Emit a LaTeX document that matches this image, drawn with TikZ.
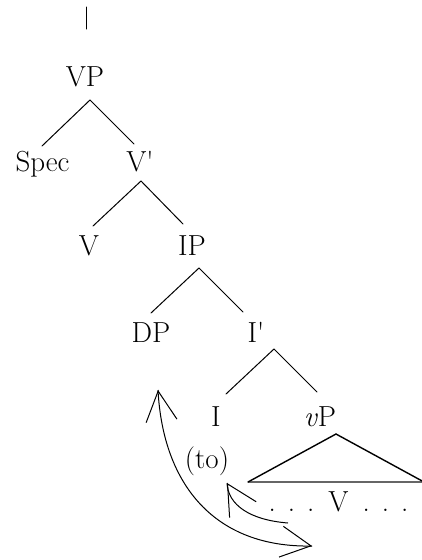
\documentclass[tikz,border=0pt]{standalone}
\usepackage{fontspec}
\usetikzlibrary{arrows.meta,calc}
\begin{document}
\begin{tikzpicture}[x=1pt,y=-1pt,
  lbl/.style={anchor=base,inner sep=0pt,font=\fontsize{29}{35}\selectfont},
  edge/.style={line width=1pt,line cap=round},
  tri/.style={line width=1.4pt,line cap=round},
  triBase/.style={line width=1.8pt,draw=black!60},
  mv/.style={line width=1pt},
  barb/.style={line width=1pt,-{Straight Barb[length=30pt,width=31pt]}}
]
\useasboundingbox (0,0) rectangle (422,560);
% labels
\node[lbl] (VP)   at (85,86)   {VP};
\node[lbl] (Spec) at (42.5,171) {Spec};
\node[lbl] (Vbar) at (140,171) {V\textquotesingle};
\node[lbl] (V)    at (89,255)  {V};
\node[lbl] (IP)   at (192,255) {IP};
\node[lbl] (DP)   at (151,342) {DP};
\node[lbl] (Ibar) at (256,342) {I\textquotesingle};
\node[lbl] (I)    at (216,426) {I};
\node[lbl] (vP)   at (320,426) {\textit{v}P};
\node[lbl] (to)   at (207,468) {(to)};
\node[lbl] (dots) at (338.5,511) {.\hspace{12pt}.\hspace{12pt}.\hspace{14pt}V\hspace{14pt}.\hspace{12pt}.\hspace{12pt}.};
% tree points
\coordinate (top1) at (86,7);   \coordinate (top2) at (86,29);
\coordinate (VPa) at (90,100);  \coordinate (SpecT) at (42,146); \coordinate (VbarT) at (134,144);
\coordinate (Vba) at (141,181); \coordinate (VT) at (93,226);    \coordinate (IPT) at (183,224);
\coordinate (IPa) at (199,268); \coordinate (DPT) at (151,313);  \coordinate (IbarT) at (243,312);
\coordinate (Iba) at (274,349); \coordinate (IT) at (226,394);   \coordinate (vPT) at (317,392);
\coordinate (tA) at (336,434);  \coordinate (tL) at (248,482);   \coordinate (tR) at (424,482);
\draw[edge] (top1) -- (top2);
\draw[edge] (SpecT) -- (VPa) -- (VbarT);
\draw[edge] (VT) -- (Vba) -- (IPT);
\draw[edge] (DPT) -- (IPa) -- (IbarT);
\draw[edge] (IT) -- (Iba) -- (vPT);
\draw[triBase] (tL) -- (tR);
\draw[tri] (tL) -- (tA) -- (tR);
% movement arrows
\coordinate (longA) at (158,390); \coordinate (longAb) at (161.5,420.5);
\coordinate (longB) at (312,546); \coordinate (longBb) at (283.5,542);
\coordinate (shS) at (288,523);
\coordinate (shT) at (227,483);   \coordinate (shTb) at (242.5,509);
\draw[mv] (longA) .. controls (163,485) and (215,548) .. (longB);
\draw[mv] (shS) .. controls (250,520) and (228,505) .. (shT);
\draw[barb] ($(longA)!2pt!(longAb)$) -- (longA);
\draw[barb] ($(longB)!2pt!(longBb)$) -- (longB);
\draw[barb] ($(shT)!2pt!(shTb)$) -- (shT);
\end{tikzpicture}
\end{document}
